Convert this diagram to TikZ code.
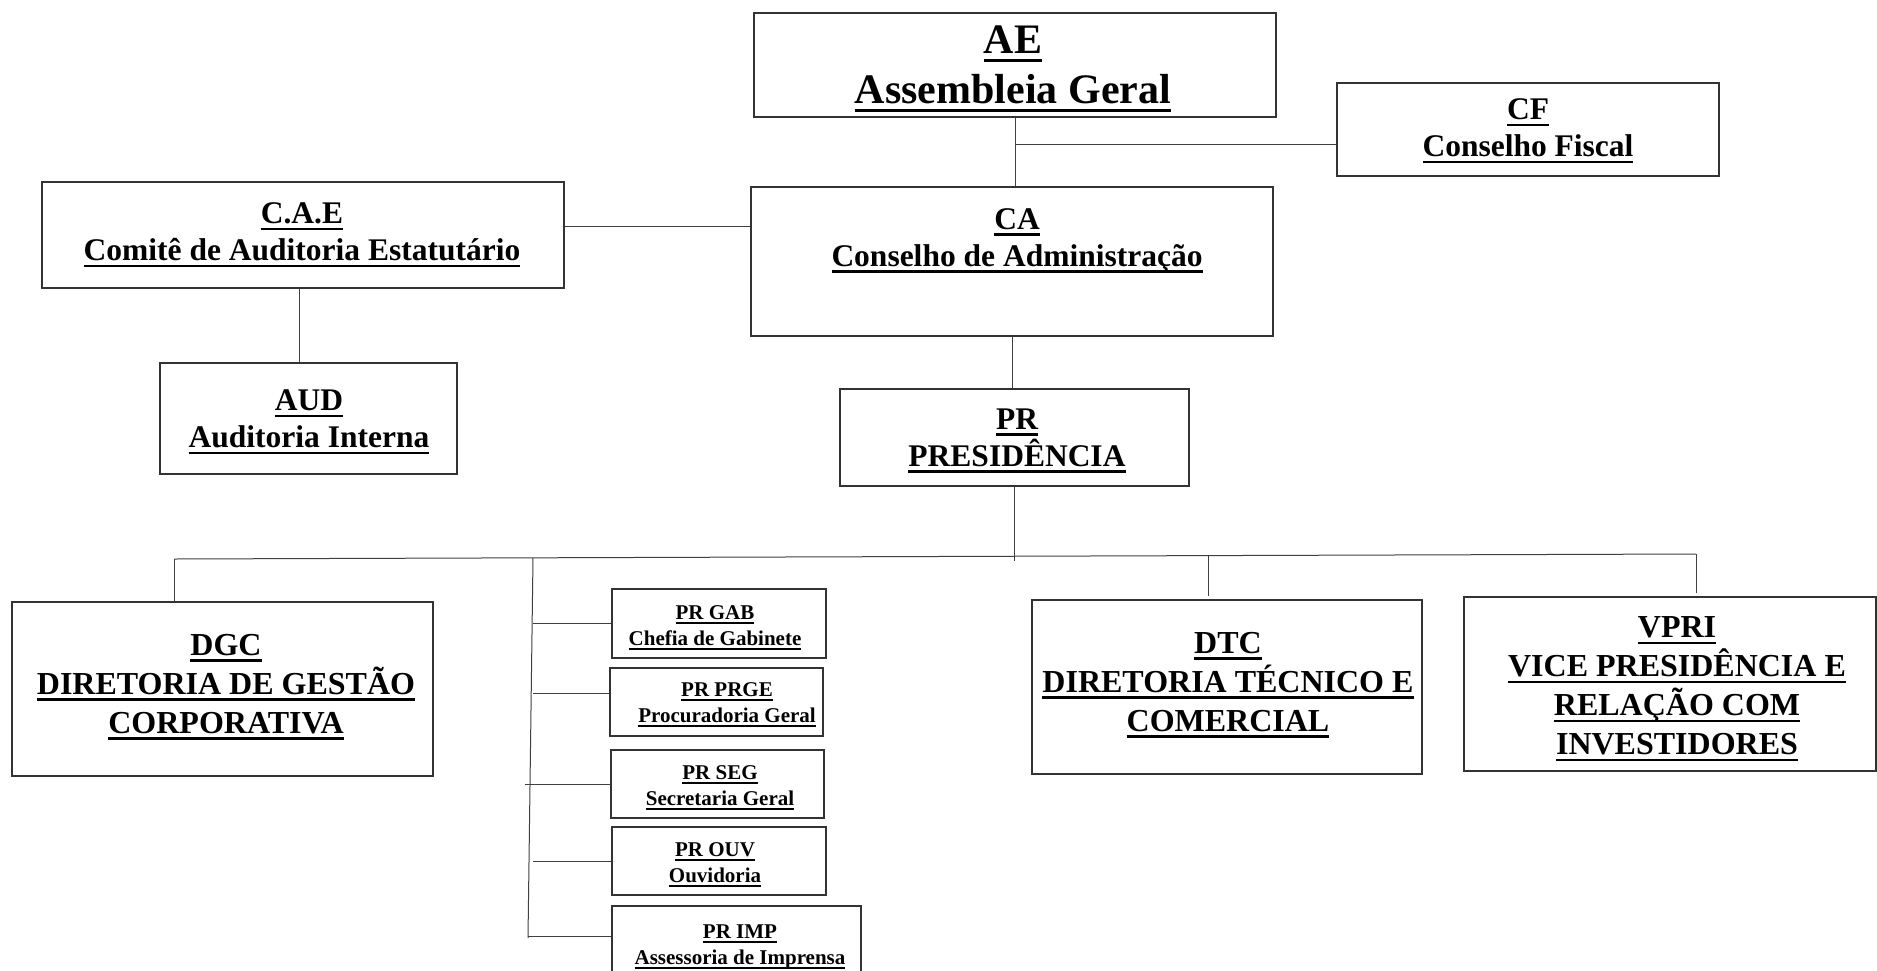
\documentclass[tikz,border=0pt]{standalone}
\usepackage{fontspec}
\setmainfont{Liberation Serif}
\newcommand\myul[1]{\setbox0\hbox{#1}\rlap{\rule[-0.19em]{\wd0}{0.075em}}\box0}
\begin{document}
\begin{tikzpicture}[x=1pt,y=-1pt,
  box/.style={draw=black!80, line width=1.3pt, inner sep=0pt},
  conn/.style={draw=black!75, line width=1pt},
  txtA/.style={font=\bfseries\fontsize{42}{50}\selectfont, align=center, inner sep=0pt},
  txtB/.style={font=\bfseries\fontsize{31.5}{37}\selectfont, align=center, inner sep=0pt},
  txtC/.style={font=\bfseries\fontsize{32}{39}\selectfont, align=center, inner sep=0pt},
  txtD/.style={font=\bfseries\fontsize{21}{26}\selectfont, align=center, inner sep=0pt}]
\useasboundingbox (0,0) rectangle (1877,970);
\fill[white] (0,0) rectangle (1877,970);
\clip (0,0) rectangle (1877,970);
% boxes
\node[box, minimum width=522pt, minimum height=104pt] (ae) at (1015,65) {};
\node[box, minimum width=382pt, minimum height=93pt] (cf) at (1528,129.5) {};
\node[box, minimum width=522pt, minimum height=106pt] (cae) at (303,235) {};
\node[box, minimum width=522pt, minimum height=149pt] (ca) at (1012,261.5) {};
\node[box, minimum width=297pt, minimum height=111pt] (aud) at (308.5,418.5) {};
\node[box, minimum width=349pt, minimum height=97pt] (pr) at (1014.5,437.5) {};
\node[box, minimum width=421pt, minimum height=174pt] (dgc) at (222.5,689) {};
\node[box, minimum width=390pt, minimum height=174pt] (dtc) at (1227,687) {};
\node[box, minimum width=412pt, minimum height=174pt] (vpri) at (1670,684) {};
\node[box, minimum width=214pt, minimum height=69pt] (gab) at (719,623.5) {};
\node[box, minimum width=213pt, minimum height=68pt] (prge) at (716.5,702) {};
\node[box, minimum width=213pt, minimum height=68pt] (seg) at (717.5,784) {};
\node[box, minimum width=214pt, minimum height=68pt] (ouv) at (719,861) {};
\node[box, minimum width=249pt, minimum height=70pt] (imp) at (736.5,941) {};
% texts
\node[txtA] (aet) at (1013,69) {\myul{AE}\\\myul{Assembleia Geral}};
\node[txtB] (cft) at (1528,131) {\myul{CF}\\\myul{Conselho Fiscal}};
\node[txtB] (caet) at (302,235) {\myul{C.A.E}\\\myul{Comitê de Auditoria Estatutário}};
\node[txtB] (cat) at (1017,241) {\myul{CA}\\\myul{Conselho de Administração}};
\node[txtB] (audt) at (309,422) {\myul{AUD}\\\myul{Auditoria Interna}};
\node[txtB] (prt) at (1017,441) {\myul{PR}\\\myul{PRESIDÊNCIA}};
\node[txtC] (dgct) at (226,687) {\myul{DGC}\\\myul{DIRETORIA DE GESTÃO}\\\myul{CORPORATIVA}};
\node[txtC] (dtct) at (1228,685) {\myul{DTC}\\\myul{DIRETORIA TÉCNICO E}\\\myul{COMERCIAL}};
\node[txtC] (vprit) at (1677,689) {\myul{VPRI}\\\myul{VICE PRESIDÊNCIA E}\\\myul{RELAÇÃO COM}\\\myul{INVESTIDORES}};
\node[txtD] (gabt) at (715,628) {\myul{PR GAB}\\\myul{Chefia de Gabinete}};
\node[txtD] (prget) at (727,705) {\myul{PR PRGE}\\\myul{Procuradoria Geral}};
\node[txtD] (segt) at (720,788) {\myul{PR SEG}\\\myul{Secretaria Geral}};
\node[txtD] (ouvt) at (715,865) {\myul{PR OUV}\\\myul{Ouvidoria}};
\node[txtD] (impt) at (740,947) {\myul{PR IMP}\\\myul{Assessoria de Imprensa}};
% connectors
\coordinate (jcf) at (1015,144);
\draw[conn] (ae.south) -- (ae.south |- ca.north);
\draw[conn] (jcf) -- (jcf -| cf.west);
\draw[conn] ([yshift=9pt]cae.east) -- ([yshift=9pt]cae.east -| ca.west);
\draw[conn] ([xshift=-4pt]cae.south) -- ([xshift=-4pt]cae.south |- aud.north);
\draw[conn] (ca.south) -- (ca.south |- pr.north);
\coordinate (jpr) at (1013,561);
\draw[conn] (pr.south) -- (pr.south |- jpr);
\coordinate (jdgc) at (174,559);
\coordinate (jdtc) at (1208,556);
\coordinate (jvp) at (1696,554);
\draw[conn] (jdgc) -- (jvp);
\draw[conn] (jdgc) -- (jdgc |- dgc.north);
\draw[conn] (jdtc) -- ([yshift=3pt]jdtc |- dtc.north);
\draw[conn] (jvp) -- ([yshift=3pt]jvp |- vpri.north);
\coordinate (vtop) at (533,558);
\coordinate (vbot) at (528,938);
\draw[conn] (vtop) -- (vbot);
\draw[conn] (gab.west) -- (gab.west -| vtop);
\draw[conn] ([yshift=9pt]prge.west) -- ([yshift=9pt]prge.west -| vtop);
\draw[conn] (seg.west) -- ([xshift=-8pt]seg.west -| vtop);
\draw[conn] (ouv.west) -- (ouv.west -| vtop);
\draw[conn] ([yshift=5pt]imp.west) -- ([yshift=5pt]imp.west -| vbot);
\end{tikzpicture}
\end{document}
